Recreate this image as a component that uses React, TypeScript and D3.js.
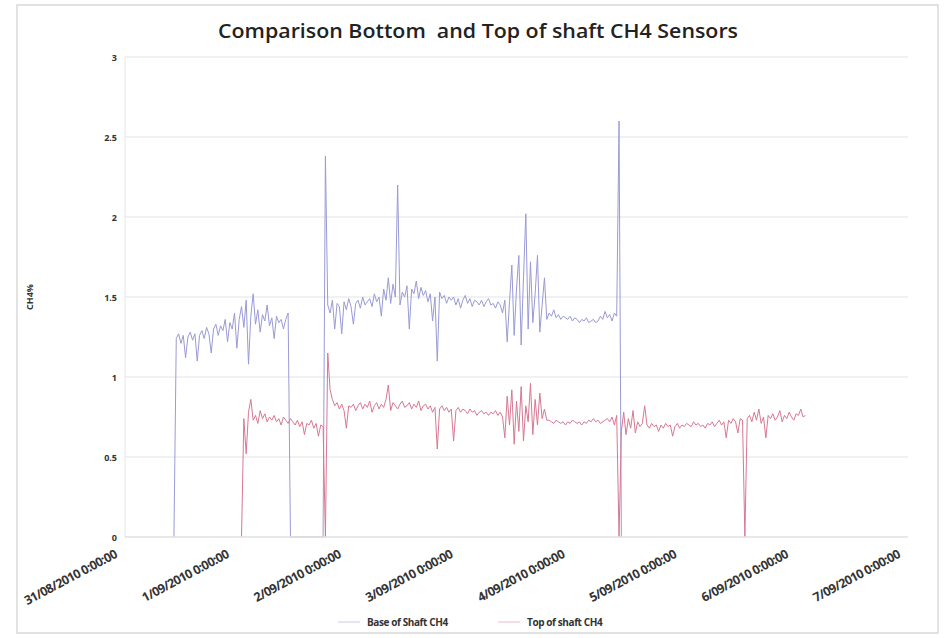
import React from "react";
import * as d3 from "d3";

// Sensor readings, one every 30 minutes. A reading of 0 marks a sensor drop-out.
const baseStart = new Date(2010, 7, 31, 10, 30);
const baseValues = [
  0, 1.24, 1.27, 1.21, 1.26, 1.12, 1.25, 1.28, 1.23, 1.27, 1.10, 1.26,
  1.29, 1.24, 1.31, 1.27, 1.15, 1.30, 1.33, 1.26, 1.32, 1.29, 1.36, 1.22,
  1.34, 1.30, 1.40, 1.18, 1.36, 1.44, 1.31, 1.48, 1.08, 1.38, 1.52, 1.33,
  1.42, 1.28, 1.39, 1.35, 1.45, 1.32, 1.37, 1.24, 1.38, 1.34, 1.36, 1.30,
  1.36, 1.40, 0, 0, 0, 0, 0, 0, 0, 0, 0, 0,
  0, 0, 0, 0, 0, 2.38, 1.45, 1.40, 1.48, 1.30, 1.46, 1.44,
  1.27, 1.47, 1.42, 1.49, 1.44, 1.33, 1.46, 1.48, 1.43, 1.50, 1.45, 1.47,
  1.49, 1.44, 1.52, 1.47, 1.50, 1.38, 1.55, 1.48, 1.62, 1.46, 1.58, 1.50,
  2.20, 1.45, 1.53, 1.50, 1.57, 1.30, 1.55, 1.52, 1.60, 1.49, 1.56, 1.51,
  1.54, 1.47, 1.52, 1.35, 1.50, 1.10, 1.53, 1.49, 1.51, 1.46, 1.50, 1.48,
  1.50, 1.45, 1.49, 1.43, 1.48, 1.51, 1.46, 1.49, 1.44, 1.48, 1.47, 1.45,
  1.48, 1.44, 1.47, 1.49, 1.45, 1.46, 1.43, 1.47, 1.45, 1.40, 1.48, 1.22,
  1.47, 1.70, 1.26, 1.55, 1.76, 1.20, 1.62, 2.02, 1.30, 1.72, 1.34, 1.52,
  1.76, 1.28, 1.45, 1.62, 1.36, 1.40, 1.38, 1.42, 1.37, 1.39, 1.36, 1.38,
  1.37, 1.36, 1.38, 1.35, 1.37, 1.36, 1.34, 1.36, 1.35, 1.37, 1.34, 1.35,
  1.36, 1.34, 1.35, 1.38, 1.36, 1.41, 1.37, 1.39, 1.35, 1.40, 1.38, 2.60, 0,
];

const topStart = new Date(2010, 8, 1, 1, 0);
const topValues = [
  0, 0.74, 0.52, 0.78, 0.86, 0.73, 0.76, 0.71, 0.79, 0.74, 0.77, 0.72,
  0.75, 0.73, 0.76, 0.72, 0.74, 0.70, 0.75, 0.73, 0.71, 0.74, 0.72, 0.70,
  0.73, 0.69, 0.72, 0.64, 0.71, 0.70, 0.73, 0.68, 0.71, 0.63, 0.70, 0.69,
  0, 1.15, 0.92, 0.86, 0.82, 0.84, 0.80, 0.83, 0.79, 0.68, 0.82, 0.81,
  0.83, 0.79, 0.82, 0.84, 0.80, 0.83, 0.81, 0.85, 0.78, 0.82, 0.84, 0.80,
  0.83, 0.81, 0.86, 0.95, 0.79, 0.84, 0.82, 0.80, 0.83, 0.85, 0.81, 0.82,
  0.84, 0.80, 0.83, 0.81, 0.85, 0.79, 0.82, 0.83, 0.80, 0.82, 0.78, 0.81,
  0.55, 0.80, 0.82, 0.79, 0.81, 0.78, 0.80, 0.60, 0.79, 0.81, 0.78, 0.80,
  0.79, 0.77, 0.80, 0.78, 0.79, 0.76, 0.78, 0.79, 0.77, 0.78, 0.76, 0.78,
  0.77, 0.79, 0.76, 0.78, 0.75, 0.62, 0.88, 0.70, 0.92, 0.58, 0.85, 0.66,
  0.94, 0.60, 0.82, 0.72, 0.96, 0.64, 0.86, 0.70, 0.90, 0.74, 0.80, 0.73,
  0.73, 0.72, 0.71, 0.73, 0.72, 0.71, 0.72, 0.70, 0.72, 0.71, 0.73, 0.72,
  0.71, 0.72, 0.70, 0.72, 0.71, 0.73, 0.72, 0.74, 0.72, 0.73, 0.71, 0.72,
  0.73, 0.74, 0.72, 0.75, 0.70, 0.76, 0, 0.66, 0.78, 0.64, 0.74, 0.68,
  0.79, 0.65, 0.72, 0.69, 0.71, 0.82, 0.70, 0.68, 0.71, 0.69, 0.70, 0.66,
  0.70, 0.68, 0.71, 0.69, 0.70, 0.63, 0.69, 0.71, 0.68, 0.70, 0.69, 0.71,
  0.70, 0.69, 0.72, 0.70, 0.71, 0.69, 0.70, 0.68, 0.71, 0.70, 0.72, 0.69,
  0.71, 0.73, 0.70, 0.72, 0.62, 0.73, 0.71, 0.74, 0.72, 0.65, 0.74, 0.73,
  0, 0.74, 0.76, 0.72, 0.78, 0.73, 0.80, 0.71, 0.75, 0.62, 0.76, 0.74,
  0.77, 0.73, 0.75, 0.79, 0.72, 0.76, 0.74, 0.78, 0.75, 0.73, 0.77, 0.76, 0.80, 0.75, 0.76,
];

const yTicks = [0, 0.5, 1, 1.5, 2, 2.5, 3];
const xTickDates = [
  new Date(2010, 7, 31), new Date(2010, 8, 1), new Date(2010, 8, 2), new Date(2010, 8, 3),
  new Date(2010, 8, 4), new Date(2010, 8, 5), new Date(2010, 8, 6), new Date(2010, 8, 7),
];
const seriesNames = ["Base of Shaft CH4", "Top of shaft CH4"];
const seriesColors = ["#9a9ad6", "#d77892"];

const STEP_MS = 30 * 60 * 1000;

export default function App() {
  const W = 944;
  const H = 638;
  const left = 125;
  const right = 908;
  const top = 57;
  const bottom = 537;

  const x = d3.scaleTime().domain([xTickDates[0], xTickDates[xTickDates.length - 1]]).range([left, right]);
  const y = d3.scaleLinear().domain([0, 3]).range([bottom, top]);
  const fmt = d3.timeFormat("%-d/%m/%Y %-H:%M:%S");

  const toPoints = (start: Date, vals: number[]) =>
    vals.map((v, i) => ({ t: new Date(start.getTime() + i * STEP_MS), v }));

  const line = d3
    .line<{ t: Date; v: number }>()
    .x((d) => x(d.t))
    .y((d) => y(d.v));

  const series = [toPoints(baseStart, baseValues), toPoints(topStart, topValues)];

  const labelFont = "'Open Sans', 'DejaVu Sans', sans-serif";

  return (
    <div style={{ position: "absolute", left: 0, top: 0 }}>
      <svg width={W} height={H} style={{ display: "block", background: "#fff" }}>
        <rect x={17} y={5} width={921} height={628} fill="#fff" stroke="#d9d9d9" strokeWidth={1.5} />
        <text
          x={478}
          y={38}
          textAnchor="middle"
          fontFamily={labelFont}
          fontWeight={600}
          fontSize={20}
          fill="#222"
          textLength={520}
          lengthAdjust="spacingAndGlyphs"
          style={{ whiteSpace: "pre" }}
        >
          Comparison Bottom  and Top of shaft CH4 Sensors
        </text>

        {/* horizontal gridlines */}
        {yTicks.filter((t) => t > 0).map((t) => (
          <line key={t} x1={left} x2={right} y1={y(t)} y2={y(t)} stroke="#e3e3e3" strokeWidth={1} />
        ))}
        <line x1={left} x2={left} y1={top} y2={bottom} stroke="#e6e6e6" strokeWidth={1} />

        {/* y tick labels */}
        {yTicks.map((t) => (
          <text
            key={"yl" + t}
            x={117}
            y={y(t) + 3.5}
            textAnchor="end"
            fontFamily={labelFont}
            fontWeight={700}
            fontSize={9}
            fill="#333"
          >
            {t}
          </text>
        ))}
        <text
          transform={`translate(33,${y(1.5)}) rotate(-90)`}
          textAnchor="middle"
          fontFamily={labelFont}
          fontWeight={700}
          fontSize={9}
          fill="#333"
        >
          CH4%
        </text>

        {/* series */}
        {series.map((pts, i) => (
          <path
            key={"s" + i}
            d={line(pts) || ""}
            fill="none"
            stroke={seriesColors[i]}
            strokeWidth={1}
            strokeLinejoin="round"
          />
        ))}

        {/* horizontal axis line, drawn over the series */}
        <line x1={left} x2={right} y1={y(0)} y2={y(0)} stroke="#e0e0e0" strokeWidth={1.5} />

        {/* x tick labels */}
        {xTickDates.map((d) => (
          <text
            key={"xl" + d.getTime()}
            transform={`translate(${x(d) - 7},${bottom + 20}) rotate(-28)`}
            textAnchor="end"
            fontFamily={labelFont}
            fontWeight={700}
            fontSize={12.5}
            fill="#333"
            letterSpacing={-0.6}
          >
            {fmt(d)}
          </text>
        ))}

        {/* legend */}
        {seriesNames.map((name, i) => {
          const lx = 338 + i * 160;
          return (
            <g key={name}>
              <line x1={lx} x2={lx + 22} y1={622} y2={622} stroke={seriesColors[i]} strokeWidth={1} strokeOpacity={0.5} />
              <text
                x={lx + 29}
                y={626}
                fontFamily={labelFont}
                fontWeight={700}
                fontSize={10}
                fill="#333"
                letterSpacing={-0.4}
              >
                {name}
              </text>
            </g>
          );
        })}
      </svg>
    </div>
  );
}
